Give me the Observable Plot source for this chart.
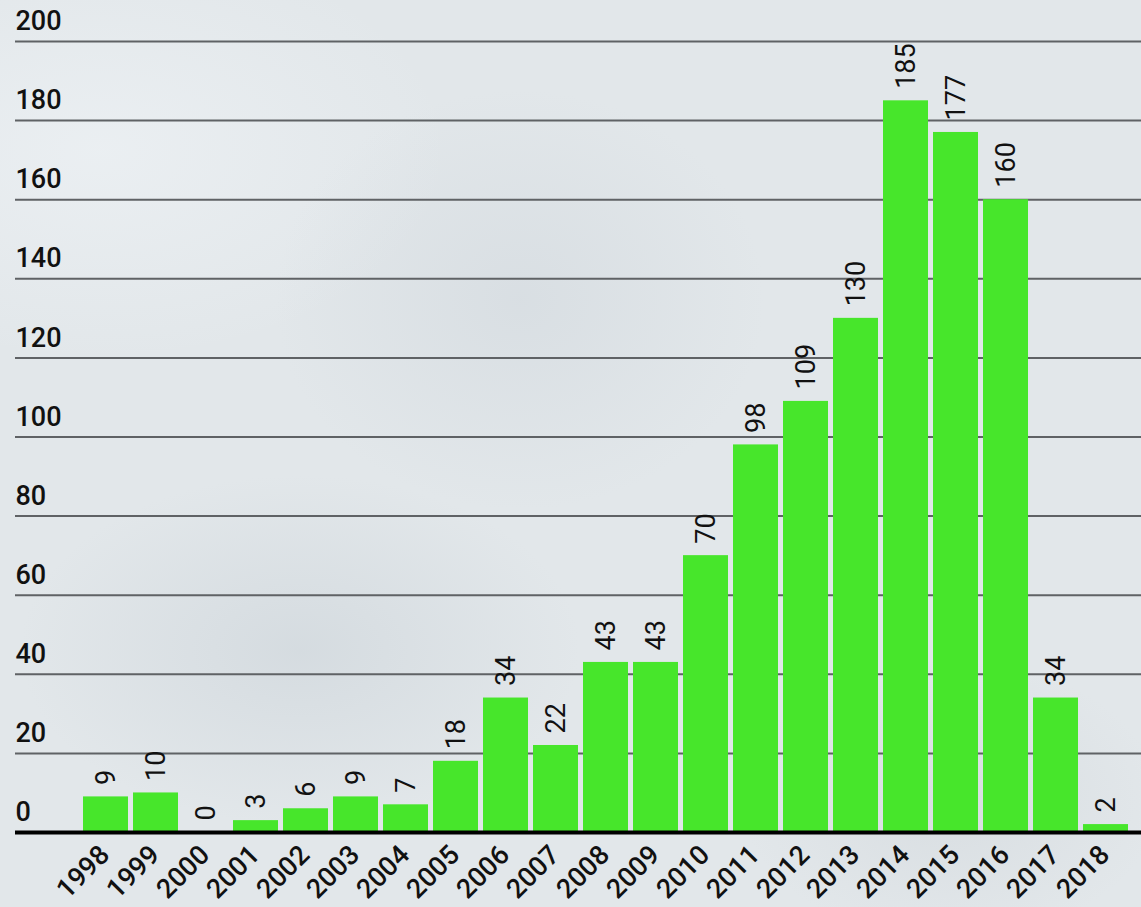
<!DOCTYPE html>
<html>
<head>
<meta charset="utf-8">
<script src="https://cdn.jsdelivr.net/npm/d3@7"></script>
<script src="https://cdn.jsdelivr.net/npm/@observablehq/plot@0.6"></script>
<style>
  html, body { margin: 0; padding: 0; }
  body {
    width: 1141px; height: 907px; overflow: hidden;
    background:
      radial-gradient(ellipse 400px 250px at 300px 650px, rgba(200,208,214,0.5), rgba(200,208,214,0) 70%),
      radial-gradient(ellipse 350px 300px at 520px 300px, rgba(205,212,218,0.45), rgba(205,212,218,0) 70%),
      radial-gradient(ellipse 300px 200px at 950px 800px, rgba(205,210,215,0.45), rgba(205,210,215,0) 70%),
      radial-gradient(ellipse 500px 300px at 100px 150px, rgba(238,242,245,0.7), rgba(238,242,245,0) 70%),
      #e2e7ea;
    font-family: Roboto, "Noto Sans", sans-serif;
  }
  svg { background: transparent !important; }
</style>
</head>
<body>
<div id="chart"></div>
<script>
const years = ["1998","1999","2000","2001","2002","2003","2004","2005","2006","2007","2008","2009","2010","2011","2012","2013","2014","2015","2016","2017","2018"];
const counts = [9,10,0,3,6,9,7,18,34,22,43,43,70,98,109,130,185,177,160,34,2];
const yTicks = [0,20,40,60,80,100,120,140,160,180,200];

const data = years.map((y, i) => ({year: y, count: counts[i]}));

const chart = Plot.plot({
  width: 1141,
  height: 907,
  marginTop: 41,
  marginBottom: 75,
  marginLeft: 15,
  marginRight: 0,
  style: {background: "transparent", fontFamily: "Roboto, 'Noto Sans', sans-serif", color: "#111"},
  x: {domain: years, range: [79.5, 1132], paddingInner: 0.1, paddingOuter: 0.05, axis: null},
  y: {domain: [0, 200], axis: null},
  marks: [
    Plot.ruleY(yTicks.filter(d => d > 0), {stroke: "#5f6265", strokeWidth: 2}),
    Plot.barY(data, {x: "year", y: "count", fill: "#47e62b"}),
    Plot.ruleY([0], {stroke: "#000", strokeWidth: 4}),
    Plot.text(yTicks, {y: d => d, text: d => String(d), frameAnchor: "left", textAnchor: "start", dy: -20, fontSize: 27, fontWeight: 500, fill: "#111"}),
    Plot.text(data, {x: "year", y: "count", text: d => String(d.count), rotate: -90, textAnchor: "start", dy: -12, fontSize: 27, fill: "#111"}),
    Plot.text(data, {x: "year", text: "year", frameAnchor: "bottom", rotate: -45, textAnchor: "end", dx: 5, dy: 24, fontSize: 27, fontWeight: 500, fill: "#111"})
  ]
});
document.getElementById("chart").appendChild(chart);
</script>
</body>
</html>
